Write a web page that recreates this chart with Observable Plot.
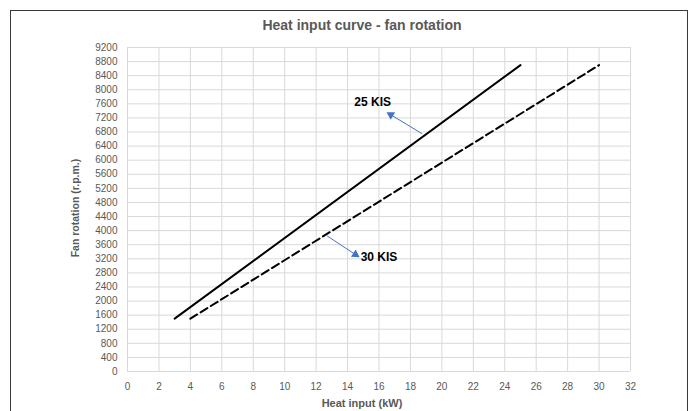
<!DOCTYPE html>
<html>
<head>
<meta charset="utf-8">
<script src="https://cdn.jsdelivr.net/npm/d3@7"></script>
<script src="https://cdn.jsdelivr.net/npm/@observablehq/plot@0.6"></script>
<style>
  html, body { margin: 0; padding: 0; background: #fff; width: 697px; height: 411px; overflow: hidden; }
  #frame { position: absolute; left: 10px; top: 10px; width: 678px; height: 420px; border: 1px solid #3a3a3a; box-sizing: border-box; }
  #title { position: absolute; left: 0; width: 724px; top: 17px; text-align: center; font: bold 14px "Liberation Sans", Arial, sans-serif; color: #595959; }
  #xtitle { position: absolute; left: 0; width: 724px; top: 397px; text-align: center; font: bold 11px "Liberation Sans", Arial, sans-serif; color: #595959; }
  #ytitle { position: absolute; left: 75px; top: 208px; transform: translate(-50%, -50%) rotate(-90deg); white-space: nowrap; font: bold 10.5px "Liberation Sans", Arial, sans-serif; color: #595959; }
  #chart { position: absolute; left: 0; top: 36px; }
</style>
</head>
<body>
<div id="frame"></div>
<div id="title">Heat input curve - fan rotation</div>
<div id="chart"></div>
<div id="xtitle">Heat input (kW)</div>
<div id="ytitle">Fan rotation (r.p.m.)</div>
<script>
// Data
const xTicks = [0, 2, 4, 6, 8, 10, 12, 14, 16, 18, 20, 22, 24, 26, 28, 30, 32];
const yTicks = [0, 400, 800, 1200, 1600, 2000, 2400, 2800, 3200, 3600, 4000, 4400, 4800, 5200, 5600, 6000, 6400, 6800, 7200, 7600, 8000, 8400, 8800, 9200];
const kis25HeatInput = [3, 25];
const kis25FanRpm = [1500, 8700];
const kis30HeatInput = [4, 30];
const kis30FanRpm = [1500, 8700];
const labelNames = ["25 KIS", "30 KIS"];
const labelX = [15.6, 16.0];
const labelY = [7640, 3240];
const arrowTailX = [18.75, 12.7];
const arrowTailY = [6750, 3850];
const arrowHeadX = [16.75, 14.5];
const arrowHeadY = [7290, 3320];

const kis25 = kis25HeatInput.map((x, i) => ({x, y: kis25FanRpm[i]}));
const kis30 = kis30HeatInput.map((x, i) => ({x, y: kis30FanRpm[i]}));
const labels = labelNames.map((t, i) => ({t, x: labelX[i], y: labelY[i]}));
const arrows = arrowTailX.map((x1, i) => ({x1, y1: arrowTailY[i], x2: arrowHeadX[i], y2: arrowHeadY[i]}));

const W = 697, H = 375;
const base = {
  width: W, height: H,
  marginLeft: 127, marginRight: 67, marginTop: 11, marginBottom: 40,
  x: {domain: [0, 32], ticks: xTicks},
  y: {domain: [0, 9200], ticks: yTicks},
  style: {fontFamily: "'Liberation Sans', Arial, sans-serif", fontSize: "10px", color: "#595959", background: "transparent", overflow: "visible"}
};

// first pass to obtain pixel scales for arrow head orientation
const probe = Plot.plot({...base, marks: [Plot.dot(kis25, {x: "x", y: "y"})]});
const sx = probe.scale("x"), sy = probe.scale("y");
const heads = arrows.map(a => {
  const px1 = sx.apply(a.x1), py1 = sy.apply(a.y1), px2 = sx.apply(a.x2), py2 = sy.apply(a.y2);
  const dx = px2 - px1, dy = py2 - py1;
  const ang = Math.atan2(dx, -dy) * 180 / Math.PI;
  return {x: a.x2, y: a.y2, ang};
});

const fmt = d => String(d);
const chart = Plot.plot({
  ...base,
  marks: [
    Plot.gridX(xTicks, {stroke: "#d9d9d9", strokeOpacity: 1, strokeWidth: 1}),
    Plot.gridY(yTicks, {stroke: "#d9d9d9", strokeOpacity: 1, strokeWidth: 1}),
    Plot.axisX(xTicks, {tickSize: 0, tickPadding: 11, fill: "#595959", fontSize: 10, tickFormat: fmt}),
    Plot.axisY(yTicks, {tickSize: 0, tickPadding: 10, fill: "#595959", fontSize: 10, label: null, tickFormat: fmt}),
    Plot.line(kis25, {x: "x", y: "y", stroke: "#000", strokeWidth: 2}),
    Plot.line(kis30, {x: "x", y: "y", stroke: "#000", strokeWidth: 2, strokeDasharray: "8,4"}),
    Plot.link(arrows, {x1: "x1", y1: "y1", x2: "x2", y2: "y2", stroke: "#4472C4", strokeWidth: 1}),
    Plot.dot(heads, {x: "x", y: "y", symbol: "triangle", r: 3.2, fill: "#4472C4", stroke: "none", rotate: "ang"}),
    Plot.text(labels, {x: "x", y: "y", text: "t", fill: "#000", fontWeight: "bold", fontSize: 12, fontFamily: "'Liberation Sans', Arial, sans-serif"})
  ]
});
document.getElementById("chart").appendChild(chart);
</script>
</body>
</html>
